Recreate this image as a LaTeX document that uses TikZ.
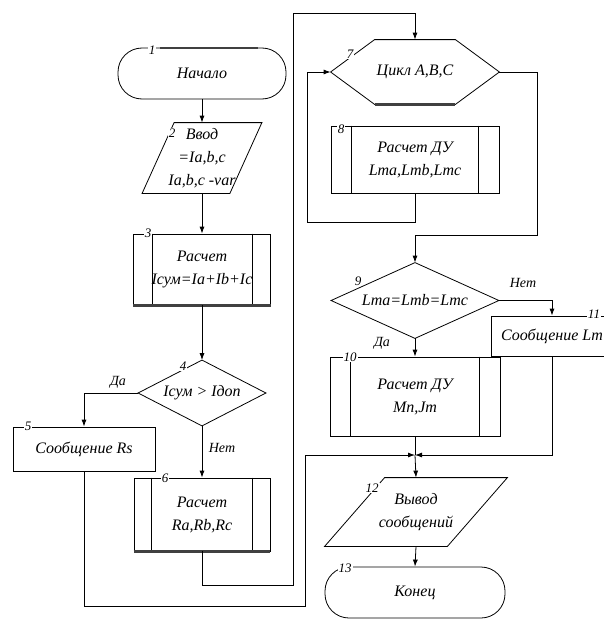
\documentclass[tikz,border=0pt]{standalone}
\usepackage{fontspec}
\setmainfont{Liberation Serif}
\usetikzlibrary{arrows.meta}

\tikzset{
  base/.style={font=\fontsize{16}{23}\selectfont\itshape, align=center, inner sep=0pt},
  term/.style={base, draw, rounded corners=24pt},
  blk/.style={base, draw},
  hid/.style={base},
  num/.style={font=\fontsize{13}{13}\selectfont\itshape, fill=white, inner sep=1pt},
  yesno/.style={font=\fontsize{14}{14}\selectfont\itshape},
  heavy/.style={line width=2.2pt, black!75},
}

% outlines for the shapes that are not plain boxes
\newcommand{\predef}[2]{\draw ([xshift=#2]#1.north west) -- ([xshift=#2]#1.south west)
  ([xshift=-#2]#1.north east) -- ([xshift=-#2]#1.south east);}
\newcommand{\slantbox}[2]{\draw ([xshift=#2]#1.north west) -- (#1.north east)
  -- ([xshift=-#2]#1.south east) -- (#1.south west) -- cycle;}
\newcommand{\decision}[1]{\draw (#1.north) -- (#1.east) -- (#1.south) -- (#1.west) -- cycle;}
\newcommand{\loophead}[2]{\draw ([xshift=#2]#1.north west) -- ([xshift=-#2]#1.north east)
  -- (#1.east) -- ([xshift=-#2]#1.south east) -- ([xshift=#2]#1.south west) -- (#1.west) -- cycle;}

\begin{document}
\begin{tikzpicture}[x=1pt, y=-1pt, line width=0.8pt, >={Latex[length=7pt,width=5pt]}]
  \useasboundingbox (0,0) rectangle (604,621);
  \clip (0,0) rectangle (604,621);

  % left column
  \node[term, minimum width=168pt, minimum height=51pt] (n1) at (202,73.5) {Начало};
  \node[hid, minimum width=119pt, minimum height=70pt] (n2) at (202,158) {Ввод\\=Ia,b,c\\Ia,b,c -var};
  \node[blk, minimum width=137pt, minimum height=71pt] (n3) at (202,269.5) {Расчет\\Iсум=Ia+Ib+Ic};
  \node[hid, minimum width=127pt, minimum height=65pt] (n4) at (202,393) {Iсум > Iдоп};
  \node[blk, minimum width=142pt, minimum height=44pt] (n5) at (84,449) {Сообщение Rs};
  \node[blk, minimum width=136pt, minimum height=73pt] (n6) at (202,514.5) {Расчет\\Ra,Rb,Rc};

  % right column
  \node[hid, minimum width=168pt, minimum height=64pt] (n7) at (415,72) {Цикл A,B,C};
  \node[blk, minimum width=168pt, minimum height=67pt] (n8) at (415,159.5) {Расчет ДУ\\Lma,Lmb,Lmc};
  \node[hid, minimum width=167pt, minimum height=75pt] (n9) at (415,300.5) {Lma=Lmb=Lmc};
  \node[blk, minimum width=170pt, minimum height=79pt] (n10) at (415,396.5) {Расчет ДУ\\Mn,Jm};
  \node[blk, minimum width=122pt, minimum height=40pt] (n11) at (552,336) {Сообщение Lm};
  \node[hid, minimum width=182pt, minimum height=68pt] (n12) at (416,512) {Вывод\\сообщений};
  \node[term, minimum width=180pt, minimum height=51pt] (n13) at (415,592.5) {Конец};
  \coordinate (j) at (415,455);

  \slantbox{n2}{32pt}
  \predef{n3}{19pt}
  \decision{n4}
  \predef{n6}{18pt}
  \loophead{n7}{44pt}
  \predef{n8}{21pt}
  \decision{n9}
  \predef{n10}{21pt}
  \slantbox{n12}{60pt}

  \draw[heavy] ([xshift=-42pt]n1.north) -- ([xshift=56pt]n1.north);
  \draw[heavy] (n3.south west) -- (n3.south east);
  \draw[heavy] (n6.south west) -- (n6.south east);
  \draw[heavy] ([xshift=44pt]n7.south west) -- ([xshift=-44pt]n7.south east);

  % connectors
  \draw[->] (n1) -- (n2);
  \draw[->] (n2) -- (n3);
  \draw[->] (n3) -- (n4);
  \draw[->] (n4.west) -| (n5.north);
  \draw[->] (n4.south) -- (n6.north);
  \draw[->] (n5.south) -- (84,606) -| (305,455) -- (j);
  \draw[->] (n6.south) -- ++(0,34) -| (293,13) -| (n7.north);
  \draw[->] (n8.south) -- ++(0,29) -| (307,72) -- (n7.west);
  \draw[->] (n7.east) -| (537,235) -| (n9.north);
  \draw[->] (n9.east) -| (n11.north);
  \draw[->] (n9.south) -- (n10.north);
  \draw[->] (n11.south) |- (j);
  \draw (n10.south) -- (j);
  \draw[->] (j) -- (n12.north);
  \draw[->] (n12.south) -- (n13.north);

  % yes / no
  \node[yesno] (y4) at (118,382) {Да};
  \node[yesno] (no4) at (222,448) {Нет};
  \node[yesno] (no9) at (523,283) {Нет};
  \node[yesno] (y9) at (382,343) {Да};

  % block numbers
  \node[num] (l1) at (152,50) {1};
  \node[num] (l2) at (172,133) {2};
  \node[num] (l3) at (148,233) {3};
  \node[num] (l4) at (183,366) {4};
  \node[num] (l5) at (28,426) {5};
  \node[num] (l6) at (165,478) {6};
  \node[num] (l7) at (350,54) {7};
  \node[num] (l8) at (341,129) {8};
  \node[num] (l9) at (358,281) {9};
  \node[num] (l10) at (350,357) {10};
  \node[num] (l11) at (594,314) {11};
  \node[num] (l12) at (372,488) {12};
  \node[num] (l13) at (345,568) {13};
\end{tikzpicture}
\end{document}
